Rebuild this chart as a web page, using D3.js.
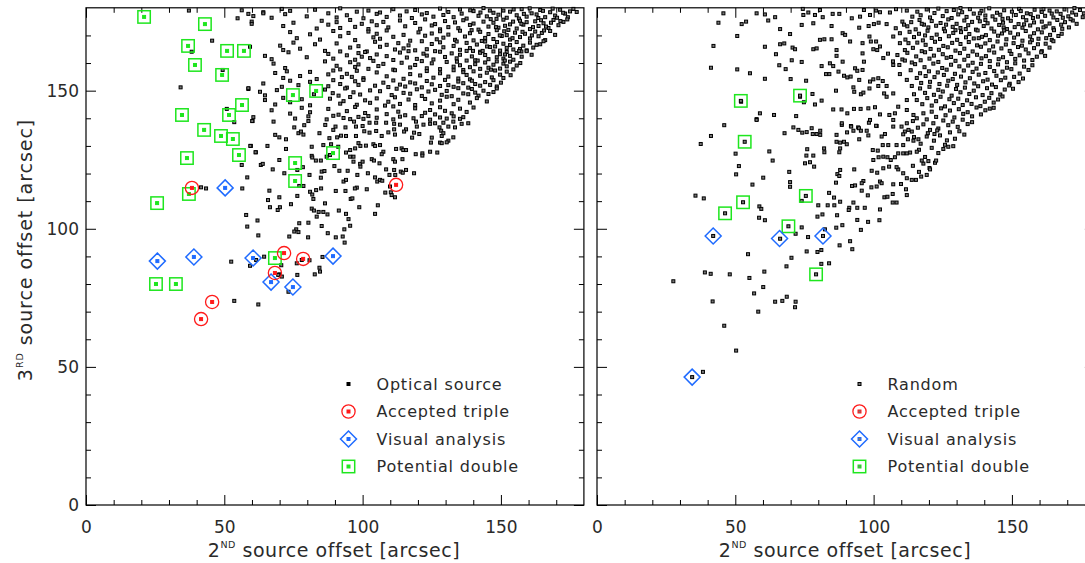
<!DOCTYPE html>
<html><head><meta charset="utf-8">
<script src="https://cdn.jsdelivr.net/npm/d3@7"></script>
<style>
body{margin:0;background:#fff}
svg{display:block}
text{font-family:"DejaVu Sans",sans-serif;fill:#2a2a2a}
</style>
</head><body>
<svg id="c" width="1085" height="563"></svg>
<script>
// ---------------- DATA ----------------
const xTicks = [0, 50, 100, 150];
const yTicks = [0, 50, 100, 150];
const minorTicks = [10,20,30,40,60,70,80,90,110,120,130,140,160,170];
const leftLegend = ["Optical source", "Accepted triple", "Visual analysis", "Potential double"];
const rightLegend = ["Random", "Accepted triple", "Visual analysis", "Potential double"];

// left panel: optical sources (x = 2nd offset, y = 3rd offset), flat x,y pairs
const leftOpticalXY = [
56.3,179.1,60.5,177.0,64.1,178.4,67.1,176.4,70.8,179.6,72.0,177.7,73.8,178.9,79.8,176.9,82.8,179.3,87.6,178.0,90.6,176.5,91.9,179.8,94.3,177.3,97.9,178.6,100.3,176.2,102.1,179.0,105.1,177.8,106.3,178.3,108.7,176.7,111.1,179.5,113.5,177.2,115.9,178.7,117.8,176.3,119.0,179.2,121.4,177.6,123.2,178.1,125.6,176.8,128.0,179.7,129.2,177.4,131.0,178.5,132.9,176.6,135.2,179.4,135.8,177.9,137.6,176.1,140.1,178.8,141.9,177.1,143.7,179.9,144.9,176.9,147.3,178.2,149.1,177.5,150.9,179.0,152.1,176.4,153.3,178.6,155.7,177.3,157.5,179.5,159.3,176.8,161.1,178.0,162.9,177.6,164.2,179.2,166.0,176.6,167.8,178.4,169.6,177.2,171.4,179.3,173.2,177.9,175.0,178.7,176.2,179.6,
146.0,179.0,148.4,176.0,154.6,179.4,158.3,177.8,160.4,179.8,163.5,176.3,165.2,178.9,168.7,179.7,170.3,176.4,172.5,178.2,174.2,176.6,177.4,178.5,156.5,176.1,138.9,179.1,142.6,178.3,
59.9,175.0,71.3,173.4,75.0,174.6,83.4,172.5,85.2,175.3,87.6,173.9,90.6,174.8,91.9,172.7,95.5,175.6,97.3,173.1,99.7,174.2,102.1,172.3,103.3,175.1,105.1,173.7,107.5,174.9,109.3,172.9,113.5,175.4,115.4,173.3,119.0,174.5,120.8,172.4,122.6,175.8,125.0,173.6,126.2,174.1,128.0,172.2,129.8,175.2,131.0,173.0,133.4,174.7,134.6,172.6,136.4,175.5,138.8,173.8,140.1,174.3,141.9,172.1,143.7,175.0,145.5,173.2,147.3,174.6,149.1,172.8,150.9,175.7,151.5,173.5,153.3,174.0,155.7,172.5,156.9,175.3,158.1,173.9,159.3,174.8,160.5,172.3,162.4,175.1,163.6,173.4,165.4,174.4,167.2,172.7,169.0,175.6,170.8,173.7,172.6,174.9,174.0,175.8,
146.3,175.9,152.7,172.0,157.4,174.2,161.6,173.0,164.5,175.5,166.3,173.2,168.1,174.6,171.5,175.2,154.4,175.0,148.2,173.0,
73.8,171.2,76.2,169.0,81.0,170.4,84.6,168.5,89.4,171.6,91.9,169.7,94.9,170.9,97.3,168.3,102.1,171.4,103.9,169.3,105.1,170.6,106.3,168.8,108.7,171.8,111.1,169.5,114.8,170.2,117.2,168.1,120.2,171.1,122.6,169.9,125.0,170.7,126.8,168.6,128.0,171.5,129.2,169.2,131.0,170.3,133.4,168.4,135.2,171.7,137.0,169.6,138.8,170.8,140.1,168.2,142.5,171.3,144.3,169.1,145.5,170.5,147.3,168.7,148.5,171.9,150.3,169.8,152.1,170.1,153.3,168.5,155.1,171.0,156.9,169.4,158.7,170.6,160.5,168.9,162.4,171.4,163.6,169.7,164.8,170.9,166.0,168.3,167.8,171.6,169.6,170.2,
139.4,171.9,143.1,168.0,149.6,170.0,151.2,171.5,154.2,169.0,157.8,171.3,161.2,170.0,165.6,171.8,
70.2,166.3,71.3,164.7,75.0,167.4,77.4,165.2,82.8,166.8,86.4,164.4,90.6,167.1,95.5,165.6,98.5,166.1,101.5,164.2,104.5,167.7,106.3,165.9,108.7,166.6,111.7,164.9,112.9,167.2,114.8,165.3,116.6,166.4,119.0,164.6,121.4,167.9,123.2,165.0,125.0,166.9,126.2,164.3,128.0,167.5,129.2,165.7,132.9,166.2,135.2,164.8,137.6,167.3,138.8,165.4,141.3,166.7,142.5,164.1,144.3,167.8,146.1,165.8,147.9,166.0,149.7,164.5,150.9,167.0,152.1,165.5,153.3,166.5,154.5,164.9,155.7,167.6,156.9,165.1,158.1,166.3,159.3,164.6,160.5,167.4,161.7,165.6,164.2,166.8,165.4,167.9,
134.0,167.8,139.9,164.4,145.0,166.0,148.6,167.6,157.4,164.2,162.9,166.6,
64.7,162.6,67.1,161.4,73.2,163.9,79.8,162.1,87.6,163.3,89.4,161.6,91.9,164.2,94.3,162.8,97.3,161.2,98.5,163.6,99.7,162.3,100.9,164.0,102.7,161.8,105.1,163.1,108.7,162.5,111.1,161.1,113.5,163.8,116.0,162.0,116.6,164.3,119.6,161.5,122.0,163.4,123.2,162.7,125.6,161.3,128.0,164.1,129.8,162.2,132.2,163.5,134.0,161.7,135.2,163.0,137.6,164.4,139.5,162.4,140.7,161.0,142.5,163.7,144.3,162.9,145.5,161.4,147.3,164.2,148.5,162.1,149.7,163.2,150.9,161.6,152.1,164.0,153.3,162.6,154.5,161.2,155.7,163.6,157.5,162.3,159.3,164.3,161.1,163.0,
143.4,164.4,151.5,163.1,156.6,164.4,
67.8,159.8,72.0,158.2,86.4,160.6,90.6,159.0,91.9,157.7,95.5,160.3,97.3,158.6,98.5,159.5,102.1,157.9,103.9,160.8,105.7,158.9,107.5,159.7,111.1,157.6,114.1,160.1,117.2,158.4,119.0,159.3,121.4,160.7,123.2,158.1,125.0,159.9,128.0,157.8,130.4,160.4,132.9,158.7,135.2,159.2,136.4,157.5,137.6,160.9,138.8,158.5,140.7,159.6,142.5,157.9,144.3,160.2,145.5,158.3,147.3,159.4,148.5,160.6,149.7,158.0,150.9,159.8,152.1,158.8,153.3,160.5,154.5,157.7,155.7,159.1,157.0,160.0,
141.6,160.9,146.4,157.6,151.4,160.9,134.1,160.5,
68.4,156.4,71.3,154.6,72.6,157.0,77.4,155.3,81.0,156.8,83.4,154.2,87.6,155.9,89.4,157.3,92.5,154.9,94.3,156.1,96.1,155.0,97.9,157.2,100.3,154.5,105.1,156.6,108.7,155.2,111.7,157.4,114.8,154.3,117.2,156.0,120.8,155.5,123.2,157.1,125.6,154.7,128.0,156.3,131.0,155.1,132.9,157.4,134.6,154.4,136.4,156.7,137.6,155.7,138.8,154.1,140.1,157.0,142.5,155.4,144.9,156.5,146.7,154.8,147.9,157.3,149.7,155.8,150.9,154.6,152.1,156.9,153.5,155.6,
64.1,152.6,70.8,151.4,73.8,153.6,76.8,152.0,81.0,153.2,87.6,151.6,89.4,153.8,91.9,152.4,94.3,151.1,97.3,153.4,98.5,152.1,100.3,153.9,104.5,151.8,107.5,152.9,109.3,151.3,111.1,153.7,113.5,152.2,115.4,151.5,117.2,153.0,119.0,152.6,121.4,151.2,123.2,153.5,125.0,152.3,128.0,151.7,129.8,153.9,131.0,152.0,132.9,151.4,134.6,153.3,136.4,152.7,138.2,151.1,139.5,153.6,140.7,152.4,142.5,151.8,144.3,153.1,146.1,152.1,147.3,153.8,148.5,151.5,150.0,152.9,
58.7,150.6,62.9,149.6,64.7,148.3,69.0,150.2,82.4,148.7,86.4,150.4,89.2,149.1,91.3,148.2,93.7,150.8,96.7,149.4,99.1,148.6,102.7,150.1,106.3,149.8,110.5,148.4,112.3,150.7,114.8,149.2,117.2,148.9,119.6,150.5,121.4,148.1,123.8,149.7,126.2,150.3,128.6,148.5,130.4,149.9,132.2,148.0,134.6,150.9,136.4,149.0,138.2,148.7,139.5,150.6,140.7,149.3,141.9,148.2,143.7,150.0,145.5,148.8,147.3,149.5,148.5,150.8,
64.7,146.6,68.4,145.0,71.3,147.4,73.8,145.8,78.0,146.9,81.0,144.7,88.2,147.1,91.9,145.3,93.1,146.2,95.5,147.7,97.9,144.9,100.9,146.5,102.7,145.6,105.1,147.2,108.1,144.6,109.3,146.0,111.7,147.6,113.5,145.2,116.6,146.8,119.0,144.8,122.6,147.0,125.0,145.4,128.0,146.4,130.4,147.8,132.9,145.1,134.6,146.7,138.8,145.7,141.3,147.3,144.9,146.1,
67.1,142.9,73.8,141.7,78.0,143.8,81.0,142.2,87.6,143.4,91.3,141.3,94.3,142.6,97.3,144.1,100.9,141.9,105.1,143.2,108.7,141.5,111.1,144.3,112.9,142.4,115.4,141.1,119.0,143.6,122.6,142.0,124.4,143.0,126.2,141.4,128.0,144.0,129.8,142.7,132.2,141.8,135.2,143.5,137.6,142.3,140.1,143.9,
60.5,140.4,75.6,139.9,80.4,140.7,87.0,139.6,89.4,140.9,93.1,140.1,95.5,139.7,98.5,140.5,100.3,139.8,102.1,140.8,105.1,140.2,111.1,139.6,113.5,140.6,118.4,140.0,121.4,140.8,124.4,139.5,128.0,140.3,130.4,139.9,132.9,140.7,135.2,139.8,136.4,140.4,
60.2,139.0,67.8,138.8,75.3,136.7,78.9,137.5,80.4,139.0,86.5,137.6,90.2,137.0,93.8,136.7,96.9,138.8,97.6,137.0,100.0,137.2,102.5,138.4,104.9,138.4,108.5,138.4,111.4,138.0,111.4,136.0,113.5,137.7,115.7,136.0,119.3,138.8,119.6,137.0,122.0,137.7,124.4,138.0,126.2,138.2,127.8,136.7,129.2,138.4,131.0,137.0,132.8,138.8,133.4,136.7,135.8,138.0,138.2,138.2,
68.4,134.0,69.9,133.1,72.3,132.4,76.8,134.6,77.7,135.2,78.6,134.1,84.4,134.6,89.4,135.8,88.0,132.8,90.8,133.1,92.2,133.7,94.0,133.6,97.6,133.6,100.6,135.3,102.5,134.8,104.9,135.4,106.9,133.6,109.3,134.9,111.7,134.1,115.0,135.2,118.6,134.8,117.9,133.0,120.5,134.3,125.0,133.0,128.4,135.5,128.6,133.6,129.2,134.6,131.0,131.9,132.8,133.1,124.7,131.2,128.0,131.2,
59.6,130.0,61.4,127.7,65.6,130.0,72.3,128.9,81.6,129.7,85.8,130.3,88.6,130.6,91.2,129.7,94.0,127.6,95.5,128.5,97.3,129.1,98.5,131.0,99.2,130.0,101.2,130.1,103.9,130.6,104.5,130.0,106.3,130.3,107.5,127.9,106.9,127.0,112.1,128.9,114.1,129.1,114.7,128.5,115.7,128.5,119.2,127.0,121.6,127.3,121.6,126.5,124.4,127.9,127.0,127.6,128.6,131.0,130.4,131.3,
63.2,123.1,63.9,123.5,67.5,121.5,69.9,124.9,78.4,122.3,81.6,126.4,81.8,125.8,83.1,124.7,84.9,124.7,87.0,126.1,88.2,126.7,95.5,126.1,96.7,126.1,96.7,124.3,99.1,123.5,99.2,122.5,100.0,124.3,103.3,125.2,104.1,124.7,106.1,123.7,111.1,125.2,114.4,125.2,111.7,124.3,111.4,121.3,115.7,121.3,118.6,120.1,108.5,121.5,
58.3,118.6,56.5,114.6,71.7,120.1,76.4,121.3,77.1,115.5,78.6,115.5,80.8,119.5,85.2,120.7,86.2,120.9,84.9,118.5,89.8,122.7,91.6,121.0,94.6,121.0,93.1,117.1,94.0,117.7,98.1,119.5,97.9,114.9,97.2,114.6,101.9,120.1,104.5,118.6,105.3,117.1,106.3,117.7,107.1,117.4,109.7,119.5,111.8,119.5,113.8,120.7,114.5,120.3,101.5,114.3,109.9,115.3,
66.3,113.8,65.8,110.4,69.9,111.4,74.1,108.9,76.4,111.9,81.0,113.4,81.8,112.4,82.2,110.8,83.2,114.0,85.0,114.6,86.4,109.2,90.3,113.7,93.8,113.7,95.7,110.8,96.3,111.0,98.8,107.8,108.2,113.1,110.2,113.2,110.5,112.2,111.7,111.4,105.5,108.5,66.5,107.8,70.1,107.8,69.3,106.8,
57.9,105.0,62.0,103.0,58.3,100.8,81.6,107.3,82.4,106.6,84.1,106.1,85.8,106.1,87.3,105.2,91.4,106.6,94.0,105.4,94.9,103.5,95.5,101.1,93.4,99.8,104.5,105.4,83.4,104.4,77.1,102.0,80.4,102.2,76.0,99.8,75.3,99.0,76.8,98.8,85.2,101.0,62.3,97.6,
73.5,97.2,80.3,96.9,87.4,98.4,90.3,96.9,92.8,97.2,93.5,95.0,64.4,89.9,61.5,88.7,59.3,86.6,70.6,86.8,76.2,87.5,76.4,83.3,78.0,88.7,80.8,88.6,85.5,89.8,84.4,85.9,84.6,84.5,82.7,83.5,69.9,83.5,70.8,82.7,69.5,83.3,73.2,77.2,62.3,72.6,
37.2,179.0,45.6,168.1,38.2,164.1,59.3,165.9,34.2,151.2,49.4,157.5,58.7,150.9,50.9,143.4,53.6,138.6,60.1,139.0,59.4,130.0,61.3,127.7,41.6,115.0,43.4,114.6,54.8,176.2,58.7,177.8,59.9,174.2,64.1,178.0,56.3,123.1,52.5,88.1,53.6,73.9
];
const leftTripleXY = [38.3,114.8, 112.1,115.9, 71.6,91.2, 78.5,89.1, 68.3,84.0, 45.6,73.5, 41.6,67.3];
const leftVisualXY = [50.3,114.8, 25.8,88.3, 39.0,89.8, 60.4,89.4, 66.9,80.7, 74.8,78.9, 89.3,90.1];
const leftDoubleXY = [21.0,176.7, 43.0,174.1, 36.9,166.2, 51.0,164.4, 57.1,164.4, 39.4,159.3, 49.2,155.7, 74.8,148.4, 56.4,144.8, 34.7,141.2, 51.7,141.2, 42.7,135.8, 48.8,133.6, 53.1,132.5, 36.5,125.6, 55.3,126.7, 75.6,123.8, 75.6,117.3, 37.2,112.6, 25.7,109.3, 89.3,127.4, 83.2,149.9, 68.3,89.4, 25.3,80.0, 32.5,80.0];

// right panel: random triples
const rightRandomXY = [
45.7,178.0,57.7,178.0,64.4,176.6,74.6,177.4,76.4,178.3,78.8,177.4,81.6,176.6,85.2,177.8,87.6,177.8,96.5,179.2,98.7,177.4,100.9,179.0,102.3,178.4,105.9,178.3,108.1,179.5,112.0,179.0,114.0,176.8,115.8,178.6,117.0,177.3,119.2,179.4,120.4,176.5,122.0,178.1,123.4,179.7,125.0,177.0,126.4,178.8,128.2,176.3,129.0,179.2,130.6,177.6,132.0,178.4,133.6,176.7,134.8,179.5,136.2,177.9,137.8,176.4,139.0,178.9,140.4,177.2,141.8,179.8,143.0,176.9,144.6,178.2,145.8,177.5,147.2,179.1,148.6,176.2,150.0,178.6,151.4,177.4,152.6,179.6,154.0,176.6,155.4,178.0,156.8,177.7,158.2,179.3,159.4,176.8,160.8,178.5,162.0,177.1,163.6,179.0,165.0,176.5,166.2,178.7,167.6,177.8,169.0,179.4,170.4,176.9,171.8,178.3,173.2,177.5,174.6,179.2,176.0,178.0,
131.4,179.9,138.4,178.0,146.6,176.0,153.2,178.8,157.6,176.3,161.4,179.5,164.4,177.9,168.4,176.4,172.6,179.9,175.6,176.6,60.7,177.6,74.4,179.6,80.6,179.2,
43.9,174.6,52.3,174.1,53.9,175.0,61.9,175.4,74.0,173.8,78.2,174.4,84.8,173.4,94.8,172.8,98.2,173.4,100.1,174.1,101.8,174.6,104.7,174.1,92.1,176.2,95.1,176.8,66.2,172.3,
108.0,172.6,110.4,175.0,112.2,173.3,113.6,174.8,115.2,172.2,116.6,175.6,118.2,173.9,119.8,172.9,121.0,175.2,122.6,173.5,124.2,174.5,125.4,172.4,127.0,175.8,128.6,173.1,130.0,174.2,131.4,172.7,132.8,175.4,134.2,173.7,135.6,174.9,137.0,172.1,138.4,175.1,139.8,173.4,141.2,174.4,142.6,172.5,144.0,175.7,145.4,173.8,146.8,174.6,148.2,172.3,149.6,175.3,151.0,173.0,152.4,174.1,153.8,172.8,155.2,175.5,156.6,173.6,158.0,174.7,159.4,172.2,160.8,175.0,162.2,173.3,163.6,174.3,165.0,172.6,166.4,175.6,167.8,173.9,169.2,174.8,170.6,172.9,172.0,175.4,173.4,174.2,
111.0,173.9,117.4,174.2,126.2,173.9,133.3,172.3,140.4,175.6,147.0,172.9,154.4,174.0,161.4,172.9,168.2,172.4,171.2,175.9,
50.7,169.8,69.8,170.5,88.8,170.8,89.7,170.2,80.6,168.4,82.2,168.6,84.8,168.6,98.5,169.6,107.1,169.6,109.5,170.8,
111.5,168.5,113.0,171.3,114.6,169.4,116.4,170.6,117.8,168.2,119.5,171.7,121.0,169.1,122.8,170.3,124.0,168.7,125.8,171.5,127.2,169.7,128.8,170.9,130.2,168.4,131.6,171.2,133.4,169.3,134.6,170.5,136.2,168.9,137.6,171.8,139.2,169.5,140.6,170.1,142.0,168.3,143.6,171.4,145.0,169.9,146.4,170.7,148.0,168.6,149.4,171.0,150.8,169.2,152.2,170.4,153.8,168.1,155.0,171.6,156.6,169.6,158.0,170.8,159.6,168.8,160.8,171.1,162.4,169.0,163.8,170.2,165.2,171.9,166.8,169.8,168.0,170.6,
118.6,170.0,129.6,171.9,138.0,169.0,147.2,171.8,157.2,168.3,164.4,168.4,
42.1,166.2,60.7,165.9,66.2,166.8,67.7,167.1,70.7,165.6,91.5,167.8,99.0,167.8,100.9,167.8,102.3,166.0,99.9,165.0,101.3,164.7,96.0,167.2,109.5,167.2,112.6,167.2,111.3,164.7,78.2,165.0,79.4,165.3,86.6,164.7,
114.2,165.5,115.8,167.4,117.4,164.3,118.8,166.6,120.6,165.1,122.2,167.7,123.6,164.8,125.2,166.2,126.8,165.7,128.4,167.3,129.6,164.5,131.4,166.9,132.8,165.2,134.4,167.6,135.8,164.2,137.4,166.4,138.8,165.9,140.4,167.1,141.8,164.6,143.2,166.0,144.8,167.8,146.2,165.3,147.8,166.7,149.2,164.4,150.6,167.2,152.2,165.8,153.6,166.3,155.0,164.9,156.6,167.5,158.0,165.4,159.4,166.8,160.8,164.3,162.2,167.0,163.6,165.6,165.0,167.9,
64.7,163.2,71.6,165.0,86.6,162.6,88.8,160.5,96.0,163.5,96.5,160.5,
103.5,161.8,105.2,163.4,107.0,160.6,108.6,162.9,110.4,161.3,112.2,163.7,113.8,160.2,115.4,162.4,117.0,161.0,118.6,163.9,120.2,161.6,121.8,162.7,123.4,160.4,125.0,163.2,126.4,161.9,128.0,162.2,129.6,160.8,131.2,163.6,132.8,161.2,134.2,162.6,135.8,160.1,137.4,163.0,139.0,161.7,140.6,162.5,142.0,160.7,143.6,163.8,145.2,161.4,146.8,162.1,148.2,160.3,149.8,163.3,151.2,161.5,152.8,162.8,154.4,160.9,156.0,163.5,157.4,161.1,159.0,162.3,160.6,163.9,162.0,162.6,
41.2,158.3,50.7,157.7,65.9,159.2,68.2,157.8,70.4,161.0,74.0,160.4,81.2,158.9,84.2,159.9,85.4,158.9,93.3,158.1,94.1,157.2,96.0,157.5,107.1,159.3,109.3,159.3,111.3,160.9,
113.4,157.4,115.0,159.6,116.8,156.3,118.4,158.5,120.0,157.0,121.6,159.8,123.2,156.6,124.8,158.2,126.4,157.6,128.0,159.4,129.4,156.1,131.0,158.8,132.6,157.3,134.2,159.1,135.8,156.8,137.2,158.0,138.8,159.7,140.4,156.4,142.0,158.6,143.6,157.1,145.0,159.5,146.6,156.9,148.2,158.3,149.8,157.8,151.2,159.9,152.8,156.2,154.4,158.7,156.0,157.5,157.4,159.2,
55.3,156.3,60.7,154.3,70.0,154.2,75.6,153.6,82.8,156.0,84.0,156.0,87.3,156.9,89.3,155.4,90.5,154.8,91.7,155.1,94.8,153.9,98.7,153.3,99.9,154.1,101.7,154.5,103.3,153.5,104.7,151.7,109.5,156.0,112.0,153.9,113.8,151.7,
115.6,154.6,117.2,152.8,118.8,155.3,120.4,153.2,122.0,154.9,123.8,152.4,125.4,155.7,127.0,153.6,128.6,154.2,130.2,152.1,131.6,155.1,133.2,153.0,134.8,154.5,136.4,152.6,138.0,155.8,139.6,153.4,141.2,154.0,142.8,152.2,144.4,155.4,146.0,153.8,147.6,154.7,149.2,152.5,150.8,155.0,152.4,153.1,154.0,154.4,
77.9,148.8,73.4,147.8,52.1,146.0,86.4,150.0,92.7,151.2,93.0,149.6,95.4,148.7,96.3,149.3,98.5,150.8,101.7,151.7,103.8,149.0,104.7,147.8,107.1,149.0,114.6,148.7,116.8,150.8,
118.6,149.2,120.2,151.4,121.8,148.5,123.4,150.3,125.0,149.7,126.6,151.8,128.2,148.2,129.8,150.6,131.4,149.4,133.0,151.1,134.6,148.8,136.2,150.0,137.8,151.6,139.4,148.4,141.0,150.9,142.6,149.1,144.2,151.3,145.8,148.6,147.4,150.4,149.0,151.9,150.4,150.7,
74.8,145.8,78.8,145.0,81.2,146.4,58.9,141.8,64.0,141.2,85.4,143.2,88.4,143.2,92.9,143.4,95.3,143.4,98.1,143.6,100.5,144.0,112.0,146.6,115.6,146.6,108.9,144.2,
117.6,145.1,119.4,147.3,121.0,144.6,122.6,146.2,124.2,147.8,125.8,144.3,127.4,146.9,129.0,145.5,130.6,147.1,132.2,144.8,133.8,146.5,135.4,145.2,137.0,147.6,138.6,144.4,140.2,146.0,141.8,147.4,143.4,145.7,145.0,146.8,146.6,147.9,
57.7,139.7,72.0,140.8,90.5,141.8,102.3,141.4,105.7,141.2,107.1,139.4,107.7,141.8,112.0,143.0,114.4,141.2,118.0,141.8,119.2,139.6,115.6,140.0,
121.0,142.4,122.6,140.5,124.4,143.6,126.0,141.1,127.6,142.8,129.2,140.3,130.8,143.3,132.4,141.6,134.0,142.2,135.6,140.7,137.2,143.9,138.8,141.4,140.4,142.9,142.0,143.5,143.4,143.8,
91.8,137.2,94.4,136.7,98.3,138.4,101.1,137.2,88.5,137.6,112.0,138.2,110.1,137.0,111.3,135.2,107.1,137.0,121.6,138.2,114.2,139.0,116.0,136.6,118.0,137.8,123.4,136.3,125.2,139.2,127.0,137.5,128.6,138.8,130.4,136.9,132.2,139.5,134.0,137.9,135.6,138.6,
114.6,133.2,117.0,130.8,119.6,134.6,121.8,131.9,124.0,133.8,125.8,130.4,127.6,134.9,129.4,132.6,131.0,135.3,132.8,134.1,123.0,135.6,126.5,132.0,
116.4,128.6,118.6,126.0,121.0,129.3,123.4,127.4,125.2,128.9,127.0,129.7,128.8,129.9,119.8,124.5,
114.2,122.8,116.4,120.6,118.0,123.6,120.2,122.0,122.2,123.9,117.2,118.9,
46.0,137.5,57.7,139.4,41.2,133.6,37.5,130.7,50.1,127.2,62.3,128.0,63.5,124.7,51.3,122.7,50.3,119.7,56.2,116.0,60.1,118.5,69.5,120.6,69.8,116.9,69.8,115.2,35.6,112.0,38.6,111.0,58.7,108.1,59.4,107.2,58.6,104.0,60.7,103.1,74.0,110.1,80.0,108.5,81.5,105.2,79.7,104.4,83.4,108.5,85.8,108.5,86.8,104.9,83.9,113.0,85.7,111.3,74.0,100.5,71.8,98.2,76.3,97.0,82.4,99.8,86.5,100.4,88.7,101.3,91.5,95.5,92.3,92.6,87.7,94.0,75.8,91.8,79.7,91.6,81.1,92.3,81.1,87.3,83.9,87.5,70.3,89.5,68.5,86.4,54.6,90.8,39.0,84.2,41.1,83.7,48.0,83.5,55.1,82.2,60.5,84.5,60.1,78.9,56.8,76.6,41.8,73.7,58.3,70.0,46.0,64.9,50.3,55.9,27.6,81.0,64.4,73.6,67.0,73.9,68.6,75.4,71.8,73.6,71.6,71.6,66.2,96.4,
67.8,134.6,71.0,136.7,72.8,135.8,74.2,134.8,75.8,135.0,77.6,136.4,78.0,134.3,79.4,134.3,80.7,135.5,80.7,134.0,82.1,129.1,82.2,127.7,76.0,128.8,75.7,126.5,78.2,126.5,75.2,123.7,77.0,124.1,78.5,122.5,86.6,134.0,86.6,131.5,87.9,131.2,87.9,129.1,87.6,127.7,89.3,131.5,90.3,130.6,88.5,138.2,90.4,134.9,91.9,137.0,92.7,135.5,94.7,136.4,95.4,135.5,97.5,135.5,98.1,133.8,94.8,132.4,98.7,139.4,100.9,137.3,99.7,128.5,101.5,128.3,102.9,133.4,104.1,134.3,103.3,130.3,105.3,130.3,108.3,130.3,110.7,130.3,112.4,132.4,114.4,131.9,116.2,132.4,119.2,133.4,122.0,134.3,120.4,135.8,113.8,135.2,110.7,134.2,112.6,135.8,
99.9,124.9,101.8,125.9,103.5,126.1,105.0,125.9,106.2,124.9,107.7,125.9,108.9,127.3,110.7,127.3,112.0,127.3,113.2,127.6,115.6,127.9,117.4,124.7,122.6,124.7,120.4,121.5,119.2,119.5,115.3,117.7,113.8,117.7,112.0,118.3,110.7,120.1,108.9,121.5,108.3,122.3,105.6,122.5,103.5,121.9,101.3,120.3,99.3,121.0,96.3,117.3,93.3,115.7,92.2,115.5,87.9,121.3,86.9,119.8,87.6,119.1,86.4,116.7,93.0,121.5,95.7,116.5,95.7,113.8,97.9,112.1,99.2,115.0,101.1,115.3,102.3,117.1,102.9,116.5,103.9,111.4,105.0,111.6,106.9,112.6,107.1,116.1,109.9,116.2,111.7,114.3,112.0,112.2,106.9,109.5,108.3,109.5,102.3,107.0,96.8,107.6,94.1,107.6,92.7,109.5,91.2,107.6,91.0,106.8,94.1,103.2,95.4,99.6,98.0,102.5,102.1,103.1,87.9,109.8,
52.0,146.3,53.4,131.5,73.4,148.2,75.5,111.9,52.8,109.6,46.3,105.6,69.2,100.9,79.2,83.5,42.0,97.4,81.7,97.4,34.4,46.3,38.3,48.2
];
const rightVisualXY = [42.0,97.4, 66.0,96.5, 81.7,97.4, 34.4,46.3];
const rightDoubleXY = [52.0,146.3, 53.4,131.5, 73.4,148.2, 75.5,111.9, 52.8,109.6, 46.3,105.6, 69.2,100.9, 79.2,83.5];

// ---------------- DRAWING ----------------
const pairs = a => d3.range(0, a.length, 2).map(i => [a[i], a[i+1]]);
const RED = "#ff1a1a", BLUE = "#1f6bff", GREEN = "#1ee61e";
const svg = d3.select("#c");
svg.append("rect").attr("width", 1085).attr("height", 563).attr("fill", "#fff");

function fit(sel, w) {
  const n = sel.text().length;
  const cur = sel.node().getComputedTextLength();
  sel.attr("letter-spacing", ((w - cur) / n).toFixed(2));
}

function makePanel(x0, yLabels) {
  const x = d3.scaleLinear().domain([0, 180]).range([x0, x0 + 497.9]);
  const y = d3.scaleLinear().domain([0, 180]).range([505, 7.8]);
  const g = svg.append("g");
  function style(ax) {
    ax.select(".domain").remove();
    ax.selectAll("line").attr("stroke", "#000").attr("stroke-width", 1);
    ax.selectAll("text").attr("fill", "#2a2a2a");
    ax.attr("font-size", 17).attr("font-family", "DejaVu Sans, sans-serif");
  }
  g.append("g").attr("transform", `translate(0,${y(0)})`)
    .call(d3.axisBottom(x).tickValues(xTicks).tickSize(-10).tickSizeOuter(0).tickPadding(16)).call(style);
  g.append("g").attr("transform", `translate(0,${y(0)})`)
    .call(d3.axisBottom(x).tickValues(minorTicks).tickSize(-5).tickSizeOuter(0).tickFormat("")).call(style);
  g.append("g").attr("transform", `translate(0,${y(180)})`)
    .call(d3.axisTop(x).tickValues(xTicks).tickSize(-10).tickSizeOuter(0).tickFormat("")).call(style);
  g.append("g").attr("transform", `translate(0,${y(180)})`)
    .call(d3.axisTop(x).tickValues(minorTicks).tickSize(-5).tickSizeOuter(0).tickFormat("")).call(style);
  const la = d3.axisLeft(y).tickValues(yTicks).tickSize(-10).tickSizeOuter(0).tickPadding(7);
  if (!yLabels) la.tickFormat("");
  g.append("g").attr("transform", `translate(${x(0)},0)`).call(la).call(style);
  g.append("g").attr("transform", `translate(${x(0)},0)`)
    .call(d3.axisLeft(y).tickValues(minorTicks).tickSize(-5).tickSizeOuter(0).tickFormat("")).call(style);
  g.append("g").attr("transform", `translate(${x(180)},0)`)
    .call(d3.axisRight(y).tickValues(yTicks).tickSize(-10).tickSizeOuter(0).tickFormat("")).call(style);
  g.append("g").attr("transform", `translate(${x(180)},0)`)
    .call(d3.axisRight(y).tickValues(minorTicks).tickSize(-5).tickSizeOuter(0).tickFormat("")).call(style);
  g.append("rect").attr("x", x(0)).attr("y", y(180)).attr("width", x(180) - x(0)).attr("height", y(0) - y(180))
    .attr("fill", "none").attr("stroke", "#000").attr("stroke-width", 1.2);
  const t = g.append("text").attr("x", (x(0) + x(180)) / 2 - 1).attr("y", 556.5)
    .attr("text-anchor", "middle").attr("font-size", 19);
  t.append("tspan").text("2");
  t.append("tspan").text("ND").attr("font-size", 9.5).attr("dy", -9);
  t.append("tspan").text(" source offset [arcsec]").attr("dy", 9);
  fit(t, 252);
  return {g, x, y};
}

function dot(g, px, py, color, filled) {
  g.append("rect").attr("x", px - 1.5).attr("y", py - 1.5).attr("width", 3).attr("height", 3)
    .attr("fill", filled ? color : "#777").attr("stroke", color).attr("stroke-width", 1);
}
function circleMk(g, px, py) {
  g.append("circle").attr("cx", px).attr("cy", py).attr("r", 6.6)
    .attr("fill", "none").attr("stroke", RED).attr("stroke-width", 1.3);
}
function diamondMk(g, px, py) {
  g.append("path").attr("d", `M${px},${py-8}L${px+8},${py}L${px},${py+8}L${px-8},${py}Z`)
    .attr("fill", "none").attr("stroke", BLUE).attr("stroke-width", 1.5);
}
function squareMk(g, px, py) {
  g.append("rect").attr("x", px - 6.2).attr("y", py - 6.2).attr("width", 12.4).attr("height", 12.4)
    .attr("fill", "none").attr("stroke", GREEN).attr("stroke-width", 1.5);
}

// LEFT PANEL
const L = makePanel(86, true);
const lp = L.g.append("g");
pairs(leftOpticalXY).forEach(d => dot(lp, L.x(d[0]), L.y(d[1]), "#000", false));
pairs(leftDoubleXY).forEach(d => { squareMk(lp, L.x(d[0]), L.y(d[1])); dot(lp, L.x(d[0]), L.y(d[1]), GREEN, true); });
pairs(leftVisualXY).forEach(d => { diamondMk(lp, L.x(d[0]), L.y(d[1])); dot(lp, L.x(d[0]), L.y(d[1]), BLUE, true); });
pairs(leftTripleXY).forEach(d => { circleMk(lp, L.x(d[0]), L.y(d[1])); dot(lp, L.x(d[0]), L.y(d[1]), RED, true); });

// RIGHT PANEL
const R = makePanel(597, false);
const rp = R.g.append("g");
pairs(rightRandomXY).forEach(d => dot(rp, R.x(d[0]), R.y(d[1]), "#000", false));
pairs(rightDoubleXY).forEach(d => squareMk(rp, R.x(d[0]), R.y(d[1])));
pairs(rightVisualXY).forEach(d => diamondMk(rp, R.x(d[0]), R.y(d[1])));

// y title
const yt = svg.append("text").attr("transform", "translate(32,250) rotate(-90)")
  .attr("text-anchor", "middle").attr("font-size", 19);
yt.append("tspan").text("3");
yt.append("tspan").text("RD").attr("font-size", 9.5).attr("dy", -9);
yt.append("tspan").text(" source offset [arcsec]").attr("dy", 9);
fit(yt, 262);

// legends
const rowsY = [384, 411.5, 439, 466.5];
function legend(labels, mx, tx, leftStyle) {
  const lg = svg.append("g");
  labels.forEach((lab, i) => {
    const yy = rowsY[i];
    if (i === 0) dot(lg, mx, yy, "#000", leftStyle);
    if (i === 1) { circleMk(lg, mx, yy); dot(lg, mx, yy, RED, leftStyle); }
    if (i === 2) { diamondMk(lg, mx, yy); dot(lg, mx, yy, BLUE, leftStyle); }
    if (i === 3) { squareMk(lg, mx, yy); dot(lg, mx, yy, GREEN, leftStyle); }
    lg.append("text").attr("x", tx).attr("y", yy).attr("dy", "0.36em").attr("font-size", 16)
      .attr("letter-spacing", 0.8).text(lab);
  });
}
legend(leftLegend, 348.5, 376.5, true);
legend(rightLegend, 859.5, 887.5, false);
</script>
</body></html>
